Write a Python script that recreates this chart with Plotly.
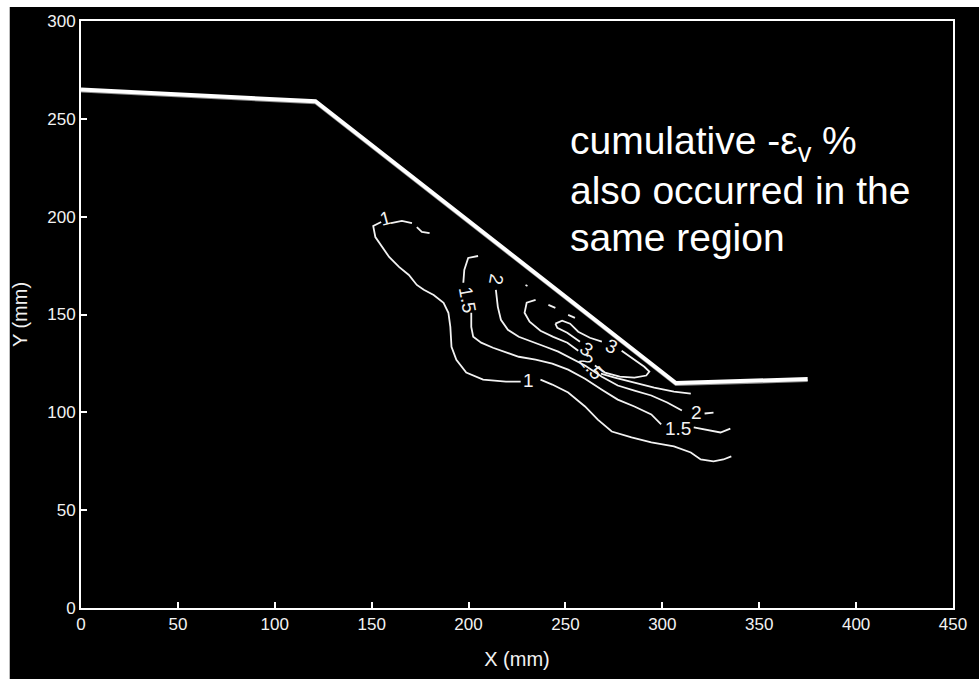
import plotly.graph_objects as go

# Slope surface profile (mm)
slope_x = [0, 121, 307, 375]
slope_y = [265, 259, 115, 117]

# Cumulative strain contour lines (mm); None marks breaks where labels sit
c1_x = [179.9, 175.9, 173.3, None, 170.8, 165.6, 160.0, None,
        154.9, 150.8, 151.9, 155.4, 159.0, 164.1, 169.2, 173.3, 176.9, 182.0, 187.1,
        189.6, 190.6, 191.2, 193.7, 198.8, 207.5, 219.3, 226.9, None,
        237.1, 243.2, 251.4, 260.1, 266.7, 273.9, 284.1, 294.3, 306.0, 314.7,
        319.8, 326.4, 331.5, 335.6]
c1_y = [191.6, 192.2, 194.7, None, 196.7, 197.8, 196.7, None,
        197.3, 195.2, 189.6, 184.5, 179.4, 174.3, 170.2, 165.1, 162.6, 160.0, 156.0,
        150.9, 143.7, 133.5, 126.9, 120.3, 116.7, 115.7, 115.7, None,
        116.7, 114.2, 110.1, 103.0, 96.3, 90.2, 87.2, 84.6, 82.6, 79.5,
        75.9, 74.9, 75.9, 77.5]

c15_x = [204.9, 199.8, 197.8, 197.3, None,
         201.4, 201.4, 202.4, 206.5, 212.6, 219.3, 225.9, 234.6, 243.2, 251.4,
         260.1, 268.8, 277.0, 285.6, 294.3, 299.4, None,
         316.2, 325.0, 330.0, 335.1]
c15_y = [179.9, 178.9, 172.8, 166.2, None,
         150.9, 143.7, 138.6, 135.6, 133.0, 130.5, 128.4, 126.9, 124.9, 121.8,
         117.2, 111.6, 106.5, 103.0, 98.9, 93.8, None,
         92.3, 90.7, 89.7, 91.7]

c2_x = [214.1, 215.1, 216.7, 220.3, 225.9, 233.0, 239.7, 246.3, 252.4, 260.1,
        268.8, 277.0, 285.6, 294.3, 302.5, 310.1, None, 321.8, 326.4, None,
        229.4, 230.4, None, 241.2, 244.8, None, 251.4, 254.9]
c2_y = [162.6, 153.9, 147.3, 142.2, 138.6, 136.1, 133.5, 131.0, 127.9, 123.9,
        118.2, 113.7, 111.1, 108.6, 105.0, 100.9, None, 99.4, 99.9, None,
        165.1, 164.6, None, 154.9, 153.4, None, 149.8, 148.3]

c25_x = [234.6, 230.0, 228.9, 231.5, 237.1, 243.7, 251.0, 256.6, None,
         268.3, 275.4, 285.6, 295.8, 306.0, 314.7]
c25_y = [157.5, 156.0, 150.9, 146.3, 141.7, 138.6, 135.6, 131.5, None,
         119.8, 117.7, 115.2, 112.6, 110.6, 109.6]

c3_x = [244.8, 248.3, 252.4, 256.6, 262.6, 268.8, None,
        279.0, 285.6, 290.7, 293.3, 291.7, 285.6, 278.0, 270.4, 265.2, None,
        257.5, 250.9, 245.8, 244.8]
c3_y = [145.3, 146.8, 145.3, 141.2, 138.1, 136.1, None,
        131.5, 126.9, 123.3, 120.8, 118.8, 117.7, 118.2, 120.3, 123.9, None,
        136.1, 140.7, 143.2, 145.3]

# Contour labels: text, position (mm), rotation (deg)
lab_text = ["1", "1", "1.5", "1.5", "2", "2", "2.5", "3", "3"]
lab_x = [157.0, 231.0, 199.3, 308.1, 214.1, 317.8, 263.2, 261.1, 273.9]
lab_y = [199.3, 116.2, 157.5, 91.7, 167.7, 99.9, 123.3, 132.0, 133.5]
lab_angle = [-15, 0, 80, 0, 100, 0, 50, 40, 25]

x_ticks = [0, 50, 100, 150, 200, 250, 300, 350, 400, 450]
y_ticks = [0, 50, 100, 150, 200, 250, 300]

note_lines = ["cumulative -ε<sub>v</sub> %", "also occurred in the", "same region"]
note_y = [237.3, 213.2, 189.6]

FONT = "Liberation Sans, Arial, sans-serif"
FG = "#f2f2f2"

fig = go.Figure()

# slope surface with a faint grey edge underneath
fig.add_trace(go.Scatter(x=slope_x, y=[v - 0.9 for v in slope_y], mode="lines",
                         line=dict(color="#8c8c8c", width=2.5), hoverinfo="skip"))
fig.add_trace(go.Scatter(x=slope_x, y=slope_y, mode="lines",
                         line=dict(color="white", width=4), hoverinfo="skip"))

for cx, cy in [(c1_x, c1_y), (c15_x, c15_y), (c2_x, c2_y), (c25_x, c25_y), (c3_x, c3_y)]:
    fig.add_trace(go.Scatter(x=cx, y=cy, mode="lines", connectgaps=False,
                             line=dict(color=FG, width=1.8), hoverinfo="skip"))

annotations = []
for t, x, y, a in zip(lab_text, lab_x, lab_y, lab_angle):
    annotations.append(dict(x=x, y=y, xref="x", yref="y", text=t, showarrow=False,
                            textangle=a, font=dict(family=FONT, size=19, color=FG)))
for t, y in zip(note_lines, note_y):
    annotations.append(dict(x=251.5, y=y, xref="x", yref="y", text=t, showarrow=False,
                            xanchor="left", yanchor="middle",
                            font=dict(family=FONT, size=39, color="white")))

fig.update_layout(
    width=979, height=679,
    margin=dict(l=81, r=17, t=21, b=70),
    paper_bgcolor="black", plot_bgcolor="black",
    showlegend=False,
    font=dict(family=FONT, color=FG, size=17),
    annotations=annotations,
    shapes=[
        dict(type="rect", xref="paper", yref="paper", x0=-0.2, x1=1.1,
             y0=1 + 14 / 588, y1=1.1, fillcolor="white", line=dict(width=0), layer="above"),
        dict(type="rect", xref="paper", yref="paper", x0=-0.2, x1=-72 / 881,
             y0=-0.2, y1=1.1, fillcolor="white", line=dict(width=0), layer="above"),
    ],
    xaxis=dict(range=[0, 450], tickvals=x_ticks, ticks="inside", ticklen=6,
               tickcolor="white", tickwidth=1.5, showline=True, linecolor="white",
               linewidth=2, mirror=True, showgrid=False, zeroline=False,
               tickfont=dict(family=FONT, size=17, color=FG),
               title=dict(text="X (mm)", font=dict(family=FONT, size=20, color=FG),
                          standoff=19)),
    yaxis=dict(range=[0, 300], tickvals=y_ticks, ticks="inside", ticklen=6,
               tickcolor="white", tickwidth=1.5, showline=True, linecolor="white",
               linewidth=2, mirror=True, showgrid=False, zeroline=False,
               tickfont=dict(family=FONT, size=17, color=FG),
               title=dict(text="Y (mm)", font=dict(family=FONT, size=20, color=FG),
                          standoff=14)),
)

fig.write_html("out.html")
